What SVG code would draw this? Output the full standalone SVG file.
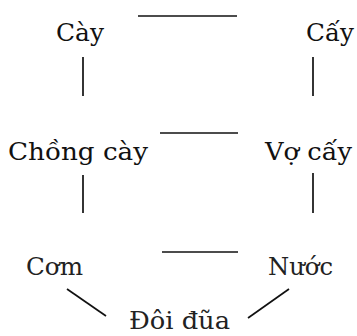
<svg xmlns="http://www.w3.org/2000/svg" width="357" height="336" viewBox="0 0 357 336">
<style>
.t{font-family:"DejaVu Serif","Liberation Serif",serif;font-size:24px;fill:#111}
.l{fill:#222}
.c{stroke:#111;stroke-width:1.7;fill:none}
</style>
<rect width="357" height="336" fill="#fff"/>
<g id="connectors">
<line class="c" x1="138" y1="16" x2="237" y2="16"/>
<line class="c" x1="83" y1="57" x2="83" y2="96"/>
<line class="c" x1="313" y1="57" x2="313" y2="96"/>
<line class="c" x1="160" y1="133" x2="238" y2="133"/>
<line class="c" x1="83" y1="175" x2="83" y2="213"/>
<line class="c" x1="313" y1="173" x2="313" y2="213"/>
<line class="c" x1="162" y1="252" x2="238" y2="252"/>
<line class="c" x1="67" y1="289" x2="106" y2="316"/>
<line class="c" x1="248" y1="318" x2="289" y2="289"/>
</g>
<g id="cay"><text class="t" x="56" y="41" textLength="48" lengthAdjust="spacingAndGlyphs">Cày</text></g>
<g id="cay2"><text class="t" x="306" y="41" textLength="48" lengthAdjust="spacingAndGlyphs">Cấy</text></g>
<g id="chongcay"><text class="t" x="8" y="160" textLength="140" lengthAdjust="spacingAndGlyphs">Chồng cày</text></g>
<g id="vocay"><text class="t" x="265" y="160" textLength="87" lengthAdjust="spacingAndGlyphs">Vợ cấy</text></g>
<g id="com"><text class="t l" x="26" y="275" textLength="57" lengthAdjust="spacingAndGlyphs">Cơm</text></g>
<g id="nuoc"><text class="t l" x="268" y="275" textLength="65" lengthAdjust="spacingAndGlyphs">Nước</text></g>
<g id="doidua"><text class="t l" x="129" y="329" font-size="23" textLength="101" lengthAdjust="spacingAndGlyphs">Đôi đũa</text></g>
</svg>
